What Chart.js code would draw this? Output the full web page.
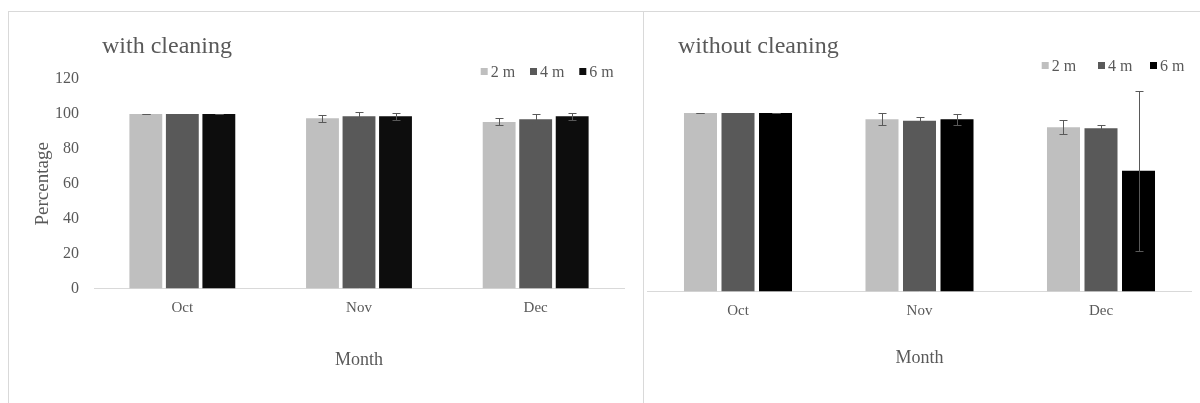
<!DOCTYPE html>
<html>
<head>
<meta charset="utf-8">
<script src="https://cdn.jsdelivr.net/npm/chart.js@4.4.1/dist/chart.umd.min.js"></script>
<style>
  html, body { margin: 0; padding: 0; background: #fff; }
  body { width: 1200px; height: 403px; position: relative; overflow: hidden; }
  .frame { position: absolute; border: 1px solid #d9d9d9; border-bottom: none; }
  .panel { position: absolute; }
</style>
</head>
<body>
<div class="frame" style="left:8px;top:11px;width:634px;height:400px;"></div>
<div class="frame" style="left:643px;top:11px;width:560px;height:400px;border-left:none;"></div>
<div class="panel" style="left:8px;top:11px;"><canvas id="withCleaning" width="636" height="392"></canvas></div>
<div class="panel" style="left:644px;top:11px;"><canvas id="withoutCleaning" width="556" height="392"></canvas></div>
<script>
// Monthly percentage per height (2 m / 4 m / 6 m), with / without cleaning.
// Means and error-bar half widths.
const months = ["Oct", "Nov", "Dec"];
const heights = ["2 m", "4 m", "6 m"];

const cleaned2m = [100, 97.6, 95.5];
const cleaned4m = [100, 98.7, 97.0];
const cleaned6m = [100, 98.7, 98.7];
const cleaned2mErr = [0.2, 1.9, 2.0];
const cleaned4mErr = [0.2, 2.5, 2.9];
const cleaned6mErr = [0.2, 2.1, 2.2];

const uncleaned2m = [100, 96.5, 92.0];
const uncleaned4m = [100, 95.7, 91.4];
const uncleaned6m = [100, 96.5, 67.7];
const uncleaned2mErr = [0.2, 3.3, 3.9];
const uncleaned4mErr = [0.2, 1.9, 1.7];
const uncleaned6mErr = [0.2, 3.1, 44.8];

const yTicksMax = 120;
const yStep = 20;

const SERIF = '"Liberation Serif", "Times New Roman", serif';
const TEXT = '#595959';

// whisker for each bar, from the dataset's "errors" array
const errorBars = {
  id: 'errorBars',
  afterDatasetsDraw(chart) {
    const ctx = chart.ctx, y = chart.scales.y;
    ctx.save();
    ctx.strokeStyle = '#595959';
    ctx.lineWidth = 1;
    chart.data.datasets.forEach(function (ds, i) {
      chart.getDatasetMeta(i).data.forEach(function (bar, j) {
        const v = ds.data[j], e = ds.errors[j];
        const x = Math.round(bar.x) + 0.5;
        const top = Math.round(y.getPixelForValue(v + e)) + 0.5;
        const bot = Math.round(y.getPixelForValue(v - e)) + 0.5;
        ctx.beginPath();
        ctx.moveTo(x, top); ctx.lineTo(x, bot);
        ctx.moveTo(x - 4, top); ctx.lineTo(x + 4, top);
        ctx.moveTo(x - 4, bot); ctx.lineTo(x + 4, bot);
        ctx.stroke();
      });
    });
    ctx.restore();
  }
};

// Excel-like panel title (top left) and legend (top right)
const panelHeader = {
  id: 'panelHeader',
  afterDraw(chart, args, opts) {
    const ctx = chart.ctx;
    ctx.save();
    ctx.fillStyle = TEXT;
    ctx.textBaseline = 'alphabetic';
    ctx.font = opts.titleSize + 'px ' + SERIF;
    ctx.fillText(opts.title, opts.titleX, opts.titleY);
    ctx.font = opts.legendSize + 'px ' + SERIF;
    chart.data.datasets.forEach(function (ds, i) {
      const x = opts.legendX[i];
      ctx.fillStyle = ds.backgroundColor;
      ctx.fillRect(x, opts.legendY - 9, 7, 7);
      ctx.fillStyle = TEXT;
      ctx.fillText(ds.label, x + 10, opts.legendY);
    });
    ctx.restore();
  }
};

function makeChart(id, p) {
  const datasets = p.means.map(function (m, i) {
    return {
      label: heights[i], data: m, errors: p.errs[i],
      backgroundColor: p.colors[i],
      categoryPercentage: p.catPct, barPercentage: p.barPct
    };
  });
  return new Chart(document.getElementById(id), {
    type: 'bar',
    data: { labels: months, datasets: datasets },
    plugins: [errorBars, panelHeader],
    options: {
      responsive: false, animation: false, devicePixelRatio: 1,
      layout: { padding: p.padding },
      plugins: {
        legend: { display: false }, tooltip: { enabled: false },
        panelHeader: p.header
      },
      scales: {
        x: {
          grid: { display: false, drawTicks: false },
          border: { display: true, color: '#d9d9d9', width: 1 },
          ticks: { color: TEXT, font: { family: SERIF, size: 15 }, padding: p.xTickPad },
          title: { display: true, text: 'Month', color: TEXT, font: { family: SERIF, size: 18 },
                   padding: { top: 0, bottom: p.monthPad } },
          afterFit: function (s) { s.height = p.xHeight; }
        },
        y: {
          display: p.showY, min: 0, max: yTicksMax,
          grid: { display: false, drawTicks: false },
          border: { display: false },
          ticks: { stepSize: yStep, color: TEXT, font: { family: SERIF, size: 16 }, padding: 15 },
          title: { display: true, text: 'Percentage', color: TEXT, font: { family: SERIF, size: 19 },
                   padding: { top: 23.6, bottom: 0 } },
          afterFit: function (s) { s.width = p.showY ? 86 : 0; }
        }
      }
    }
  });
}

makeChart('withCleaning', {
  means: [cleaned2m, cleaned4m, cleaned6m],
  errs: [cleaned2mErr, cleaned4mErr, cleaned6mErr],
  colors: ['#bfbfbf', '#595959', '#0d0d0d'],
  catPct: 0.62, barPct: 0.9,
  padding: { top: 68.2, left: 0, right: 20, bottom: 0 },
  xHeight: 114.5, xTickPad: 10.5, monthPad: 32, showY: true,
  header: { title: 'with cleaning', titleX: 94, titleY: 42, titleSize: 24,
            legendX: [472.7, 522, 571.3], legendY: 66, legendSize: 16 }
});

makeChart('withoutCleaning', {
  means: [uncleaned2m, uncleaned4m, uncleaned6m],
  errs: [uncleaned2mErr, uncleaned4mErr, uncleaned6mErr],
  colors: ['#bfbfbf', '#595959', '#000000'],
  catPct: 0.62, barPct: 0.88,
  padding: { top: 66.3, left: 3.25, right: 8.25, bottom: 0 },
  xHeight: 111.5, xTickPad: 10.3, monthPad: 34, showY: false,
  header: { title: 'without cleaning', titleX: 34, titleY: 42, titleSize: 24,
            legendX: [397.7, 454, 506], legendY: 60, legendSize: 16 }
});
</script>
</body>
</html>
